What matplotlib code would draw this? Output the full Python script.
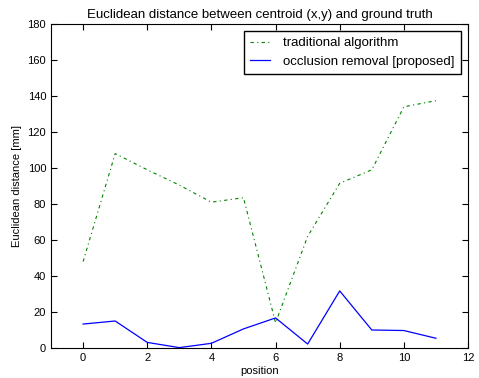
import matplotlib
matplotlib.use('Agg')
import numpy as np
from matplotlib import pyplot as plt

plt.rcParams['font.family'] = ['Liberation Sans', 'DejaVu Sans']

position = list(range(12))
traditional = [48, 108, 99, 90.5, 81, 83.5, 14, 62, 91.5, 99, 134, 137.4]
proposed = [13.3, 15, 3.1, 0.2, 2.6, 10.6, 16.7, 2.2, 31.7, 10, 9.7, 5.4]

fig = plt.figure(figsize=(4.79, 3.78), dpi=100)
ax = fig.add_axes([0.1065, 0.0794, 0.8706, 0.8571])

ax.plot(position, traditional, color='g', lw=0.8, dashes=(3, 3, 1, 3),
        label='traditional algorithm')
ax.plot(position, proposed, '-', color='b', lw=0.9, label='occlusion removal [proposed]')

ax.set_xlim(-1, 12)
ax.set_ylim(0, 180)
ax.set_xticks(range(0, 13, 2))
ax.set_yticks(range(0, 181, 20))
ax.tick_params(direction='in', top=True, right=True, labelsize=8, length=4)
ax.set_xlabel('position', fontsize=8, labelpad=2)
ax.set_ylabel('Euclidean distance [mm]', fontsize=8, labelpad=4)
ax.set_title('Euclidean distance between centroid (x,y) and ground truth', fontsize=9.5, pad=4)

leg = ax.legend(loc='upper right', fontsize=9.5, fancybox=False, framealpha=1,
                edgecolor='k', borderaxespad=0.5, handlelength=1.5,
                handletextpad=1.0, borderpad=0.5, labelspacing=0.45)
leg.get_frame().set_linewidth(1)

fig.savefig('out.png', dpi=100)
